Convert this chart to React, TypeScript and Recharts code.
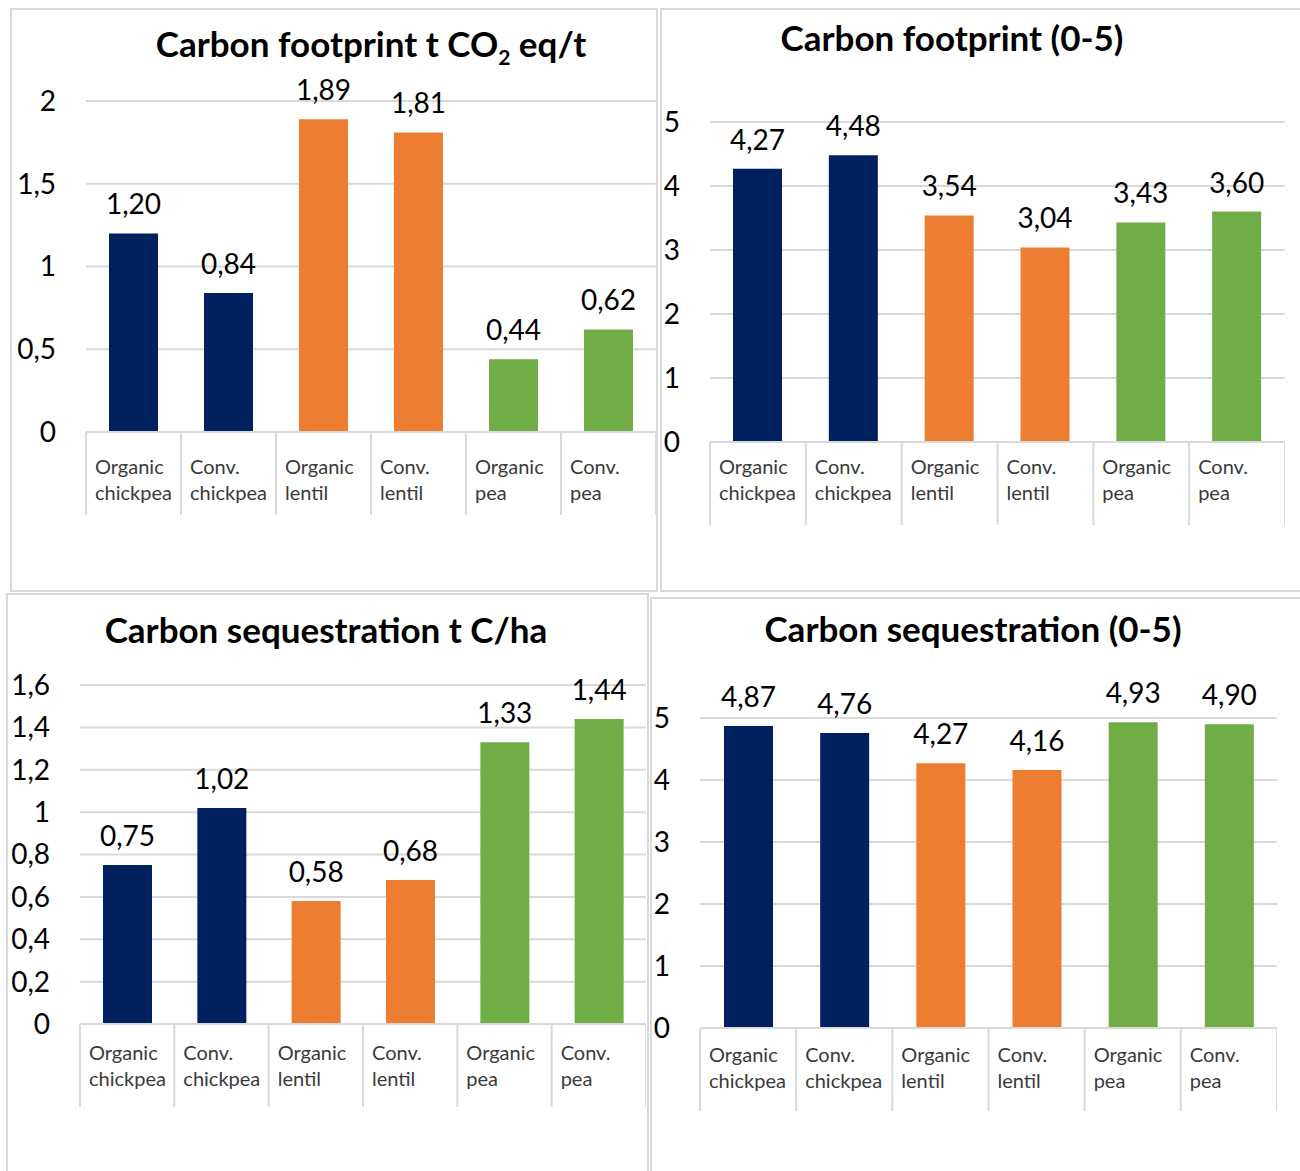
import React from "react";
import { Bar, BarChart, CartesianGrid, Cell, LabelList, XAxis, YAxis } from "recharts";

const CATEGORIES = [
  "Organic chickpea",
  "Conv. chickpea",
  "Organic lentil",
  "Conv. lentil",
  "Organic pea",
  "Conv. pea",
];
// one colour per crop: chickpea, lentil, pea
const BAR_COLORS = ["#002060", "#002060", "#ED7D31", "#ED7D31", "#70AD47", "#70AD47"];

const FOOTPRINT_T = [1.2, 0.84, 1.89, 1.81, 0.44, 0.62];
const FOOTPRINT_SCORE = [4.27, 4.48, 3.54, 3.04, 3.43, 3.6];
const SEQUESTRATION_T = [0.75, 1.02, 0.58, 0.68, 1.33, 1.44];
const SEQUESTRATION_SCORE = [4.87, 4.76, 4.27, 4.16, 4.93, 4.9];

const TICKS_FOOTPRINT_T = [0, 0.5, 1, 1.5, 2];
const TICKS_SCORE = [0, 1, 2, 3, 4, 5];
const TICKS_SEQUESTRATION_T = [0, 0.2, 0.4, 0.6, 0.8, 1, 1.2, 1.4, 1.6];

const FONT = "Lato, 'Open Sans', sans-serif";
const GRID = "#d9d9d9";

const comma = (v: number, digits?: number) =>
  (digits == null ? String(v) : v.toFixed(digits)).replace(".", ",");

type TickProps = { x: number; y: number; payload: { value: string }; index: number };

function CategoryTick({
  x,
  y,
  payload,
  index,
  cw,
  dy,
}: TickProps & { cw: number; dy: number }) {
  const [first, ...rest] = payload.value.split(" ");
  const left = x - cw / 2;
  return (
    <g>
      <line x1={left} x2={left} y1={y} y2={y + 83} stroke={GRID} strokeWidth={2} />
      {index === CATEGORIES.length - 1 && (
        <line x1={left + cw} x2={left + cw} y1={y} y2={y + 83} stroke={GRID} strokeWidth={2} />
      )}
      <text x={left + 9} y={y + dy + 7} fontSize={20} fill="#3a3a3a" fontFamily={FONT}>
        {first}
      </text>
      <text x={left + 9} y={y + dy + 33} fontSize={20} fill="#3a3a3a" fontFamily={FONT}>
        {rest.join(" ")}
      </text>
    </g>
  );
}

type PanelProps = {
  title: React.ReactNode;
  values: number[];
  ticks: number[];
  box: { left: number; top: number; width: number; height: number };
  titleCenter: { x: number; y: number };
  plot: { x0: number; x1: number; yTop: number; yZero: number };
  labelDy: number;
};

function Panel({ title, values, ticks, box, titleCenter, plot, labelDy }: PanelProps) {
  const rows = CATEGORIES.map((name, i) => ({ name, value: values[i] }));
  const chartLeft = box.left;
  const chartTop = box.top;
  const yAxisWidth = plot.x0 - chartLeft;
  const width = plot.x1 - chartLeft;
  const height = plot.yZero - chartTop + 90;
  const cw = (plot.x1 - plot.x0) / CATEGORIES.length;

  return (
    <>
      <div
        style={{
          position: "absolute",
          left: box.left,
          top: box.top,
          width: box.width,
          height: box.height,
          border: `2px solid ${GRID}`,
          boxSizing: "border-box",
        }}
      />
      <div
        style={{
          position: "absolute",
          left: titleCenter.x - 300,
          width: 600,
          top: titleCenter.y - 22,
          height: 44,
          lineHeight: "44px",
          textAlign: "center",
          fontFamily: FONT,
          fontWeight: 700,
          fontSize: 35,
          color: "#000",
          whiteSpace: "nowrap",
        }}
      >
        {title}
      </div>
      <div style={{ position: "absolute", left: chartLeft, top: chartTop }}>
        <BarChart
          width={width}
          height={height}
          data={rows}
          margin={{ top: plot.yTop - chartTop, right: 0, bottom: 0, left: 0 }}
        >
          <CartesianGrid vertical={false} stroke={GRID} strokeWidth={2} />
          <XAxis
            dataKey="name"
            interval={0}
            height={90}
            tickSize={0}
            tickMargin={0}
            axisLine={{ stroke: GRID, strokeWidth: 2 }}
            tickLine={false}
            tick={(p: TickProps) => <CategoryTick {...p} cw={cw} dy={labelDy} />}
          />
          <YAxis
            width={yAxisWidth}
            domain={[ticks[0], ticks[ticks.length - 1]]}
            ticks={ticks}
            interval={0}
            axisLine={false}
            tickLine={false}
            tickSize={0}
            tickMargin={30}
            tickFormatter={(v: number) => comma(v)}
            tick={{ fontSize: 28, fill: "#000", fontFamily: FONT }}
          />
          <Bar dataKey="value" barSize={49} isAnimationActive={false}>
            {rows.map((r, i) => (
              <Cell key={r.name} fill={BAR_COLORS[i]} />
            ))}
            <LabelList
              dataKey="value"
              position="top"
              offset={19}
              formatter={(v: number) => comma(v, 2)}
              style={{ fontSize: 28, fill: "#000", fontFamily: FONT }}
            />
          </Bar>
        </BarChart>
      </div>
    </>
  );
}

export default function App() {
  return (
    <div
      style={{
        position: "absolute",
        left: 0,
        top: 0,
        width: 1300,
        height: 1171,
        background: "#fff",
        overflow: "hidden",
      }}
    >
      <Panel
        title={
          <>
            Carbon footprint t CO<sub style={{ fontSize: "0.6em" }}>2</sub> eq/t
          </>
        }
        values={FOOTPRINT_T}
        ticks={TICKS_FOOTPRINT_T}
        box={{ left: 10, top: 8, width: 648, height: 584 }}
        titleCenter={{ x: 371, y: 43 }}
        plot={{ x0: 86, x1: 656, yTop: 101, yZero: 432 }}
        labelDy={35}
      />
      <Panel
        title="Carbon footprint (0-5)"
        values={FOOTPRINT_SCORE}
        ticks={TICKS_SCORE}
        box={{ left: 660, top: 8, width: 650, height: 584 }}
        titleCenter={{ x: 952, y: 37 }}
        plot={{ x0: 710, x1: 1285, yTop: 122, yZero: 442 }}
        labelDy={25}
      />
      <Panel
        title="Carbon sequestration t C/ha"
        values={SEQUESTRATION_T}
        ticks={TICKS_SEQUESTRATION_T}
        box={{ left: 6, top: 593, width: 643, height: 590 }}
        titleCenter={{ x: 326, y: 629 }}
        plot={{ x0: 80, x1: 646, yTop: 685, yZero: 1024 }}
        labelDy={29}
      />
      <Panel
        title="Carbon sequestration (0-5)"
        values={SEQUESTRATION_SCORE}
        ticks={TICKS_SCORE}
        box={{ left: 650, top: 597, width: 660, height: 590 }}
        titleCenter={{ x: 973, y: 628 }}
        plot={{ x0: 700, x1: 1277, yTop: 718, yZero: 1028 }}
        labelDy={27}
      />
    </div>
  );
}
